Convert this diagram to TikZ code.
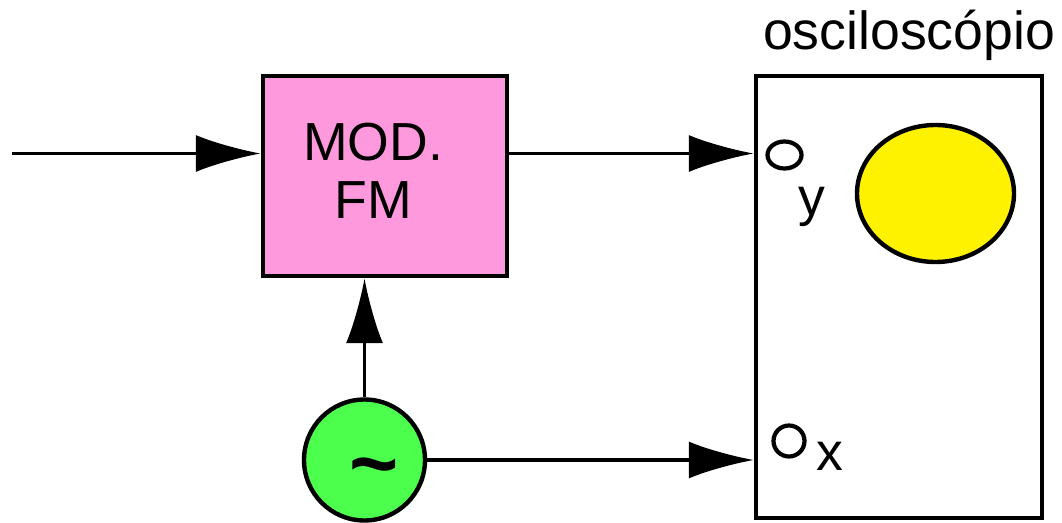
\documentclass[tikz,border=0pt]{standalone}
\usepackage{fontspec}
\setmainfont{Liberation Sans}
\usetikzlibrary{arrows.meta,shapes.geometric}
\definecolor{modpink}{RGB}{255,153,221}
\definecolor{gengreen}{RGB}{76,255,76}

\begin{document}
\begin{tikzpicture}[>={Latex[length=1.3cm,width=0.74cm]},line width=2pt,
  every node/.style={font=\fontsize{30.5}{33}\selectfont},
  modbox/.style={draw,line width=2.5pt,fill=modpink,minimum width=4.88cm,minimum height=4cm,inner sep=0pt},
  scopebox/.style={draw,line width=2.5pt,minimum width=5.72cm,minimum height=8.84cm,inner sep=0pt},
  genbox/.style={draw,circle,line width=2.5pt,fill=gengreen,minimum size=2.42cm,inner sep=0pt},
  screen/.style={draw,ellipse,line width=2.5pt,fill=yellow,minimum width=3.14cm,minimum height=2.74cm,inner sep=0pt},
  port/.style={draw,ellipse,line width=2.4pt,inner sep=0pt}]
  \useasboundingbox (0,0) rectangle (21.24,10.44);
  \node[modbox,label={[align=center,xshift=-0.24cm,yshift=0.1cm]center:MOD.\\FM}] (mod) at (7.70,6.92) {};
  \node[scopebox] (scope) at (17.98,4.50) {};
  \node[anchor=base] (title) at (18.18,9.44) {osciloscópio};
  \node[screen] (tela) at (18.71,6.57) {};
  \node[port,minimum width=0.68cm,minimum height=0.54cm] (py) at (15.69,7.34) {};
  \node[port,minimum size=0.62cm] (px) at (15.78,1.62) {};
  \node[anchor=base] (ly) at (16.24,6.14) {y};
  \node[anchor=base] (lx) at (16.60,1.04) {x};
  \node[genbox,label={[xshift=0.2cm,yshift=-0.3cm,font=\fontsize{48}{48}\selectfont\bfseries]center:\textasciitilde}] (gen) at (7.29,1.24) {};
  \coordinate (in) at (0.24,7.37);
  \draw[->] (in) -- (in -| mod.west);
  \draw[->] (mod.east |- in) -- (in -| scope.west);
  \draw[->] (gen.north) -- (gen.north |- mod.south);
  \draw[->] (gen.east) -- (gen.east -| scope.west);
\end{tikzpicture}
\end{document}
